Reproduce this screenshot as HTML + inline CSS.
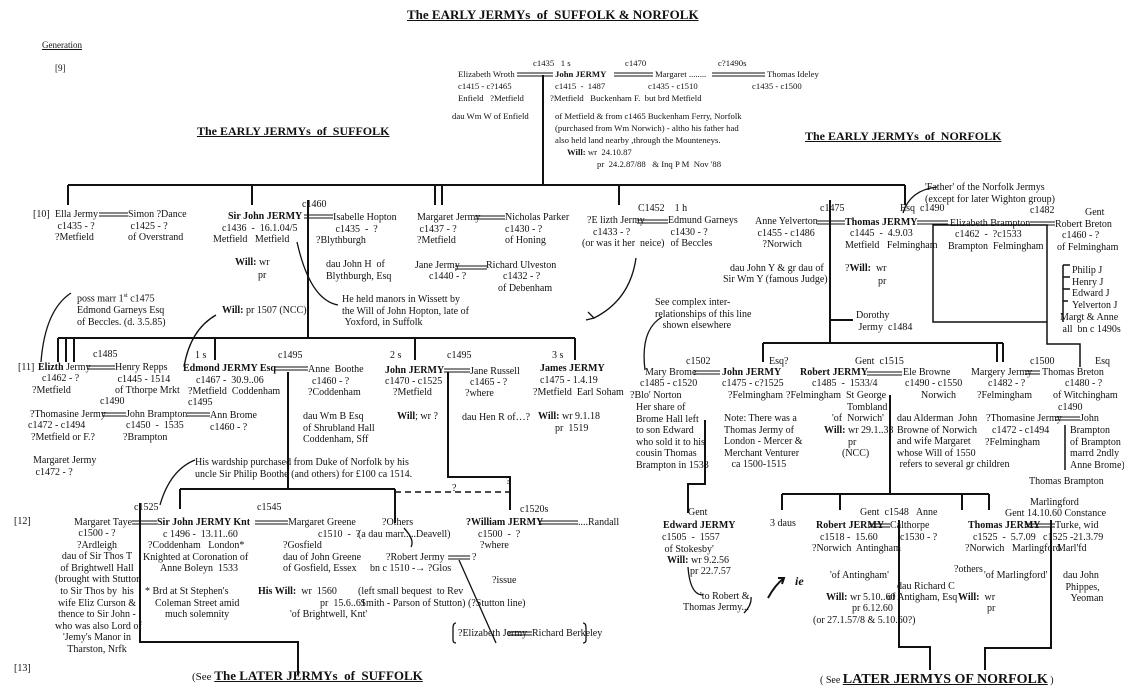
<!DOCTYPE html>
<html><head><meta charset="utf-8"><style>
body{margin:0;background:#fff;}
#w{position:relative;width:1124px;height:698px;overflow:hidden;background:#fff;color:#111;font-family:"Liberation Serif",serif;}
.t{position:absolute;white-space:nowrap;font-size:10px;line-height:11.6px;}
.s{font-size:8.7px;line-height:12px;}
b{font-weight:bold;}
.h{position:absolute;white-space:nowrap;font-weight:bold;text-decoration:underline;font-size:13px;}
svg{position:absolute;left:0;top:0;}
</style></head><body><div id="w">
<svg width="1124" height="698" fill="none" stroke="#111" stroke-width="1.3">
<path d="M543 75V185M68 185H905M68 185V205M252 185V205M435 185V205M442 185V205M619 185V205M905 185V205" stroke-width="2"/>
<path d="M308 200V338M58 338H575M58 338V362M66 338V362M74 338V362M215 338V360M415 338V360M575 338V360" stroke-width="2"/>
<path d="M830 200V343M763 343H1003M763 343V362M1003 343V362M997 343V362M830 320H853" stroke-width="2"/>
<path d="M933 225H1047V322H933ZM1047 322V344H1080V367" stroke-width="1.5"/>
<path d="M1063 265H1070M1063 277H1070M1063 289H1070M1063 301H1068M1063 265V322" stroke-width="1.5"/>
<path d="M288 372V489M180 489H395M180 489V509M395 489V523M448 372V477H510V510" stroke-width="2"/>
<path d="M395 492H510" stroke-dasharray="6 4" stroke-width="1.6"/>
<path d="M140 503V642H298V675" stroke-width="2"/>
<path d="M705 420V484H688V513" stroke-width="2"/>
<path d="M890 395V494M782 494H989M782 494V510M840 494V510M962 494V510M989 494V510" stroke-width="2"/>
<path d="M899 520V647H930V670M1051 520V648H985V670" stroke-width="2"/>
<path d="M1065 425V470" stroke-width="1.5"/>
<path d="M71 293Q45 310 41 362M216 315Q190 330 184 367M195 460Q170 470 160 505M297 242Q310 300 338 305"/>
<path d="M404 528Q415 540 411 547M459 560L496 643M636 258Q630 300 594 318M588 312L594 318L586 320"/>
<path d="M662 317Q640 330 645 370M937 187Q910 190 903 213M688 567Q690 595 703 595M744 613Q752 605 751 597"/>
<path d="M768 598Q775 585 784 578M778 578L784 578L782 584" stroke-width="2"/>
<path d="M456 623Q453 623 453 628V640Q453 643 456 643M583 623Q586 623 586 628V640Q586 643 583 643"/>
<g stroke-width="1">
<path d="M517 73H553M517 76H553M614 73H653M614 76H653M712 73H765M712 76H765"/>
<path d="M99 213H128M99 216H128M304 215H333M304 218H333M475 216H505M475 219H505M455 266H487M455 269H487"/>
<path d="M637 220H668M637 223H668M817 221H845M817 224H845M917 221H948M917 224H948M1030 222H1055M1030 225H1055"/>
<path d="M87 366H115M87 369H115M102 413H126M102 416H126M187 413H210M187 416H210M275 367H308M275 370H308M444 369H470M444 372H470"/>
<path d="M694 371H720M694 374H720M867 372H902M867 375H902M1025 371H1040M1025 374H1040M1055 417H1080M1055 420H1080"/>
<path d="M132 521H157M132 524H157M255 521H288M255 524H288M448 556H470M448 559H470M540 521H578M540 524H578M508 632H532M508 635H532"/>
<path d="M869 524H890M869 527H890M1025 524H1055M1025 527H1055"/>
</g>
</svg>

<div class="h" style="left:407px;top:7px;">The EARLY JERMYs&nbsp; of&nbsp; SUFFOLK &amp; NORFOLK</div>
<div class="t" style="left:42px;top:40px;font-size:9px;text-decoration:underline">Generation</div>
<div class="t" style="left:55px;top:63px;font-size:9px">[9]</div>
<div class="h" style="left:197px;top:124px;font-size:12px">The EARLY JERMYs&nbsp; of&nbsp; SUFFOLK</div>
<div class="h" style="left:805px;top:129px;font-size:12px">The EARLY JERMYs&nbsp; of&nbsp; NORFOLK</div>

<div class="t s" style="left:533px;top:57px">c1435&nbsp;&nbsp; 1 s</div>
<div class="t s" style="left:625px;top:57px">c1470</div>
<div class="t s" style="left:718px;top:57px">c?1490s</div>
<div class="t s" style="left:458px;top:68px">Elizabeth Wroth<br>c1415 - c?1465<br>Enfield&nbsp;&nbsp; ?Metfield</div>
<div class="t s" style="left:452px;top:110px">dau Wm W of Enfield</div>
<div class="t s" style="left:555px;top:68px"><b>John JERMY</b><br>c1415&nbsp; -&nbsp; 1487</div>
<div class="t s" style="left:550px;top:92px">?Metfield&nbsp;&nbsp; Buckenham F.&nbsp; but brd Metfield</div>
<div class="t s" style="left:555px;top:110px">of Metfield &amp; from c1465 Buckenham Ferry, Norfolk<br>(purchased from Wm Norwich) - altho his father had<br>also held land nearby ,through the Mounteneys.</div>
<div class="t s" style="left:567px;top:146px"><b>Will:</b> wr&nbsp; 24.10.87</div>
<div class="t s" style="left:597px;top:158px">pr&nbsp; 24.2.87/88&nbsp;&nbsp; &amp; Inq P M&nbsp; Nov '88</div>
<div class="t s" style="left:655px;top:68px">Margaret ........</div>
<div class="t s" style="left:648px;top:80px">c1435 - c1510</div>
<div class="t s" style="left:767px;top:68px">Thomas Ideley</div>
<div class="t s" style="left:752px;top:80px">c1435 - c1500</div>

<div class="t" style="left:33px;top:209px">[10]</div>
<div class="t" style="left:55px;top:209px">Ella Jermy<br>&nbsp;c1435 - ?<br>?Metfield</div>
<div class="t" style="left:128px;top:209px">Simon ?Dance<br>&nbsp;c1425 - ?<br>of Overstrand</div>
<div class="t" style="left:302px;top:199px">c1460</div>
<div class="t" style="left:228px;top:211px"><b>Sir John JERMY</b></div>
<div class="t" style="left:222px;top:223px">c1436&nbsp; -&nbsp; 16.1.04/5</div>
<div class="t" style="left:213px;top:234px">Metfield&nbsp;&nbsp; Metfield</div>
<div class="t" style="left:235px;top:257px"><b>Will:</b> wr</div>
<div class="t" style="left:258px;top:270px">pr</div>
<div class="t" style="left:333px;top:212px">Isabelle Hopton<br>&nbsp;c1435&nbsp; -&nbsp; ?</div>
<div class="t" style="left:316px;top:235px">?Blythburgh</div>
<div class="t" style="left:326px;top:259px">dau John H&nbsp; of<br>Blythburgh, Esq</div>
<div class="t" style="left:417px;top:212px">Margaret Jermy<br>&nbsp;c1437 - ?<br>?Metfield</div>
<div class="t" style="left:505px;top:212px">Nicholas Parker<br>c1430 - ?<br>of Honing</div>
<div class="t" style="left:415px;top:260px">Jane Jermy</div>
<div class="t" style="left:429px;top:271px">c1440 - ?</div>
<div class="t" style="left:486px;top:260px">Richard Ulveston</div>
<div class="t" style="left:503px;top:271px">c1432 - ?</div>
<div class="t" style="left:498px;top:283px">of Debenham</div>
<div class="t" style="left:342px;top:294px">He held manors in Wissett by<br>the Will of John Hopton, late of<br>&nbsp;Yoxford, in Suffolk</div>
<div class="t" style="left:77px;top:291px">poss marr 1<sup style="font-size:6px">st</sup> c1475<br>Edmond Garneys Esq<br>of Beccles. (d. 3.5.85)</div>
<div class="t" style="left:222px;top:305px"><b>Will:</b> pr 1507 (NCC)</div>

<div class="t" style="left:638px;top:203px">C1452&nbsp;&nbsp;&nbsp; 1 h</div>
<div class="t" style="left:587px;top:215px">?E lizth Jermy</div>
<div class="t" style="left:593px;top:227px">c1433 - ?</div>
<div class="t" style="left:582px;top:238px">(or was it her&nbsp; neice)</div>
<div class="t" style="left:668px;top:215px">Edmund Garneys<br>&nbsp;c1430 - ?<br>&nbsp;of Beccles</div>
<div class="t" style="left:755px;top:216px">Anne Yelverton<br>&nbsp;c1455 - c1486<br>&nbsp;&nbsp;&nbsp;?Norwich</div>
<div class="t" style="left:730px;top:263px">dau John Y &amp; gr dau of</div>
<div class="t" style="left:723px;top:274px">Sir Wm Y (famous Judge)</div>
<div class="t" style="left:820px;top:203px">c1475</div>
<div class="t" style="left:845px;top:217px"><b>Thomas JERMY</b></div>
<div class="t" style="left:850px;top:228px">c1445&nbsp; -&nbsp; 4.9.03</div>
<div class="t" style="left:845px;top:240px">Metfield&nbsp;&nbsp; Felmingham</div>
<div class="t" style="left:845px;top:263px">?<b>Will:</b>&nbsp; wr</div>
<div class="t" style="left:878px;top:276px">pr</div>
<div class="t" style="left:900px;top:203px">Esq&nbsp; c1490</div>
<div class="t" style="left:925px;top:182px">'Father' of the Norfolk Jermys<br>(except for later Wighton group)</div>
<div class="t" style="left:950px;top:218px">Elizabeth Brampton</div>
<div class="t" style="left:955px;top:229px">c1462&nbsp; -&nbsp; ?c1533</div>
<div class="t" style="left:948px;top:241px">Brampton&nbsp; Felmingham</div>
<div class="t" style="left:1030px;top:205px">c1482</div>
<div class="t" style="left:1085px;top:207px">Gent</div>
<div class="t" style="left:1055px;top:219px">Robert Breton</div>
<div class="t" style="left:1062px;top:230px">c1460 - ?</div>
<div class="t" style="left:1057px;top:242px">of Felmingham</div>
<div class="t" style="left:1072px;top:265px">Philip J<br>Henry J<br>Edward J<br>Yelverton J</div>
<div class="t" style="left:1060px;top:312px">Margt &amp; Anne<br>&nbsp;all&nbsp; bn c 1490s</div>
<div class="t" style="left:655px;top:297px">See complex inter-<br>relationships of this line<br>&nbsp;&nbsp;&nbsp;shown elsewhere</div>
<div class="t" style="left:856px;top:310px">Dorothy<br>&nbsp;Jermy&nbsp; c1484</div>

<div class="t" style="left:18px;top:362px">[11]</div>
<div class="t" style="left:93px;top:349px">c1485</div>
<div class="t" style="left:38px;top:362px"><b>Elizth</b> Jermy</div>
<div class="t" style="left:42px;top:373px">c1462 - ?</div>
<div class="t" style="left:32px;top:385px">?Metfield</div>
<div class="t" style="left:115px;top:362px">Henry Repps<br>&nbsp;c1445 - 1514<br>of Tthorpe Mrkt</div>
<div class="t" style="left:100px;top:396px">c1490</div>
<div class="t" style="left:30px;top:409px">?Thomasine Jermy</div>
<div class="t" style="left:28px;top:420px">c1472 - c1494</div>
<div class="t" style="left:31px;top:432px">?Metfield or F.?</div>
<div class="t" style="left:33px;top:455px">Margaret Jermy<br>&nbsp;c1472 - ?</div>
<div class="t" style="left:126px;top:409px">John Brampton</div>
<div class="t" style="left:126px;top:420px">c1450&nbsp; -&nbsp; 1535</div>
<div class="t" style="left:123px;top:432px">?Brampton</div>
<div class="t" style="left:195px;top:350px">1 s</div>
<div class="t" style="left:183px;top:363px"><b>Edmond JERMY Esq</b></div>
<div class="t" style="left:196px;top:375px">c1467 -&nbsp; 30.9..06</div>
<div class="t" style="left:188px;top:386px">?Metfield&nbsp; Coddenham</div>
<div class="t" style="left:188px;top:397px">c1495</div>
<div class="t" style="left:210px;top:410px">Ann Brome<br>c1460 - ?</div>
<div class="t" style="left:278px;top:350px">c1495</div>
<div class="t" style="left:308px;top:364px">Anne&nbsp; Boothe</div>
<div class="t" style="left:312px;top:376px">c1460 - ?</div>
<div class="t" style="left:308px;top:387px">?Coddenham</div>
<div class="t" style="left:303px;top:411px">dau Wm B Esq<br>of Shrubland Hall<br>Coddenham, Sff</div>
<div class="t" style="left:390px;top:350px">2 s</div>
<div class="t" style="left:385px;top:365px"><b>John JERMY</b></div>
<div class="t" style="left:385px;top:376px">c1470 - c1525</div>
<div class="t" style="left:393px;top:387px">?Metfield</div>
<div class="t" style="left:397px;top:411px"><b>Will</b>; wr ?</div>
<div class="t" style="left:447px;top:350px">c1495</div>
<div class="t" style="left:470px;top:366px">Jane Russell</div>
<div class="t" style="left:470px;top:377px">c1465 - ?</div>
<div class="t" style="left:465px;top:388px">?where</div>
<div class="t" style="left:462px;top:412px">dau Hen R of…?</div>
<div class="t" style="left:552px;top:350px">3 s</div>
<div class="t" style="left:540px;top:363px"><b>James JERMY</b></div>
<div class="t" style="left:540px;top:375px">c1475 - 1.4.19</div>
<div class="t" style="left:533px;top:387px">?Metfield&nbsp; Earl Soham</div>
<div class="t" style="left:538px;top:411px"><b>Will:</b> wr 9.1.18</div>
<div class="t" style="left:555px;top:423px">pr&nbsp; 1519</div>
<div class="t" style="left:195px;top:457px">His wardship purchased from Duke of Norfolk by his<br>uncle Sir Philip Boothe (and others) for £100 ca 1514.</div>
<div class="t" style="left:506px;top:476px">?</div>
<div class="t" style="left:452px;top:483px">?</div>

<div class="t" style="left:686px;top:356px">c1502</div>
<div class="t" style="left:645px;top:367px">Mary Brome</div>
<div class="t" style="left:640px;top:378px">c1485 - c1520</div>
<div class="t" style="left:630px;top:390px">?Blo' Norton</div>
<div class="t" style="left:636px;top:402px">Her share of<br>Brome Hall left<br>to son Edward<br>who sold it to his<br>cousin Thomas<br>Brampton in 1533</div>
<div class="t" style="left:722px;top:367px"><b>John JERMY</b></div>
<div class="t" style="left:722px;top:378px">c1475 - c?1525</div>
<div class="t" style="left:728px;top:390px">?Felmingham</div>
<div class="t" style="left:724px;top:413px">Note: There was a<br>Thomas Jermy of<br>London - Mercer &amp;<br>Merchant Venturer<br>&nbsp;&nbsp;&nbsp;ca 1500-1515</div>
<div class="t" style="left:769px;top:356px">Esq?</div>
<div class="t" style="left:855px;top:356px">Gent&nbsp; c1515</div>
<div class="t" style="left:800px;top:367px"><b>Robert JERMY</b></div>
<div class="t" style="left:812px;top:378px">c1485&nbsp; -&nbsp; 1533/4</div>
<div class="t" style="left:786px;top:390px">?Felmingham&nbsp; St George</div>
<div class="t" style="left:847px;top:402px">Tombland</div>
<div class="t" style="left:832px;top:413px">'of&nbsp; Norwich'</div>
<div class="t" style="left:824px;top:425px"><b>Will:</b> wr 29.1..33</div>
<div class="t" style="left:848px;top:437px">pr</div>
<div class="t" style="left:842px;top:448px">(NCC)</div>
<div class="t" style="left:903px;top:367px">Ele Browne</div>
<div class="t" style="left:905px;top:378px">c1490 - c1550</div>
<div class="t" style="left:921px;top:390px">Norwich</div>
<div class="t" style="left:897px;top:413px">dau Alderman&nbsp; John<br>Browne of Norwich<br>and wife Margaret<br>whose Will of 1550<br>&nbsp;refers to several gr children</div>
<div class="t" style="left:971px;top:367px">Margery Jermy</div>
<div class="t" style="left:988px;top:378px">c1482 - ?</div>
<div class="t" style="left:977px;top:390px">?Felmingham</div>
<div class="t" style="left:1030px;top:356px">c1500</div>
<div class="t" style="left:1095px;top:356px">Esq</div>
<div class="t" style="left:1042px;top:367px">Thomas Breton</div>
<div class="t" style="left:1065px;top:378px">c1480 - ?</div>
<div class="t" style="left:1053px;top:390px">of Witchingham</div>
<div class="t" style="left:1058px;top:402px">c1490</div>
<div class="t" style="left:986px;top:413px">?Thomasine Jermy</div>
<div class="t" style="left:992px;top:425px">c1472 - c1494</div>
<div class="t" style="left:985px;top:437px">?Felmingham</div>
<div class="t" style="left:1080px;top:413px">John</div>
<div class="t" style="left:1070px;top:425px">Brampton<br>of Brampton<br>marrd 2ndly<br>Anne Brome)</div>
<div class="t" style="left:1029px;top:476px">Thomas Brampton</div>

<div class="t" style="left:14px;top:516px">[12]</div>
<div class="t" style="left:134px;top:502px">c1525</div>
<div class="t" style="left:257px;top:502px">c1545</div>
<div class="t" style="left:74px;top:517px">Margaret Taye</div>
<div class="t" style="left:55px;top:528px;text-align:center;width:84px">c1500 - ?<br>?Ardleigh<br>dau of Sir Thos T<br>of Brightwell Hall<br>(brought with Stutton<br>to Sir Thos by&nbsp; his<br>wife Eliz Curson &amp;<br>thence to Sir John -<br>who was also Lord of<br>'Jemy's Manor in<br>Tharston, Nrfk</div>
<div class="t" style="left:157px;top:517px"><b>Sir John JERMY Knt</b></div>
<div class="t" style="left:163px;top:529px">c 1496 -&nbsp; 13.11..60</div>
<div class="t" style="left:148px;top:540px">?Coddenham&nbsp;&nbsp; London*</div>
<div class="t" style="left:143px;top:552px">Knighted at Coronation of</div>
<div class="t" style="left:160px;top:563px">Anne Boleyn&nbsp; 1533</div>
<div class="t" style="left:145px;top:586px">* Brd at St Stephen's</div>
<div class="t" style="left:155px;top:598px">Coleman Street amid</div>
<div class="t" style="left:165px;top:609px">much solemnity</div>
<div class="t" style="left:288px;top:517px">Margaret Greene</div>
<div class="t" style="left:318px;top:529px">c1510&nbsp; -&nbsp; ?</div>
<div class="t" style="left:283px;top:540px">?Gosfield<br>dau of John Greene<br>of Gosfield, Essex</div>
<div class="t" style="left:258px;top:586px"><b>His Will:</b>&nbsp; wr&nbsp; 1560</div>
<div class="t" style="left:320px;top:598px">pr&nbsp; 15.6..61</div>
<div class="t" style="left:290px;top:609px">'of Brightwell, Knt'</div>
<div class="t" style="left:382px;top:517px">?Others</div>
<div class="t" style="left:358px;top:529px">(a dau marr.....Deavell)</div>
<div class="t" style="left:386px;top:552px">?Robert Jermy</div>
<div class="t" style="left:472px;top:552px">?</div>
<div class="t" style="left:370px;top:563px">bn c 1510 -→ ?Glos</div>
<div class="t" style="left:358px;top:586px">(left small bequest&nbsp; to Rev<br>&nbsp;Smith - Parson of Stutton)</div>
<div class="t" style="left:520px;top:504px">c1520s</div>
<div class="t" style="left:466px;top:517px"><b>?William JERMY</b></div>
<div class="t" style="left:578px;top:517px">....Randall</div>
<div class="t" style="left:478px;top:529px">c1500&nbsp; -&nbsp; ?</div>
<div class="t" style="left:480px;top:540px">?where</div>
<div class="t" style="left:492px;top:575px">?issue</div>
<div class="t" style="left:468px;top:598px">(?Stutton line)</div>
<div class="t" style="left:458px;top:628px">?Elizabeth Jermy</div>
<div class="t" style="left:532px;top:628px">Richard Berkeley</div>

<div class="t" style="left:688px;top:507px">Gent</div>
<div class="t" style="left:663px;top:520px"><b>Edward JERMY</b></div>
<div class="t" style="left:662px;top:532px">c1505&nbsp; -&nbsp; 1557<br>&nbsp;of Stokesby'</div>
<div class="t" style="left:667px;top:555px"><b>Will:</b> wr 9.2.56</div>
<div class="t" style="left:690px;top:566px">pr 22.7.57</div>
<div class="t" style="left:700px;top:591px">'to Robert &amp;</div>
<div class="t" style="left:683px;top:602px">Thomas Jermy...'</div>
<div class="t" style="left:770px;top:518px">3 daus</div>
<div class="t" style="left:795px;top:576px;font-style:italic;font-weight:bold;font-size:12px">ie</div>
<div class="t" style="left:860px;top:507px">Gent&nbsp; c1548&nbsp;&nbsp; Anne</div>
<div class="t" style="left:816px;top:520px"><b>Robert JERMY</b></div>
<div class="t" style="left:820px;top:532px">c1518 -&nbsp; 15.60</div>
<div class="t" style="left:812px;top:543px">?Norwich&nbsp; Antingham</div>
<div class="t" style="left:830px;top:570px">'of Antingham'</div>
<div class="t" style="left:826px;top:592px"><b>Will:</b> wr 5.10..60</div>
<div class="t" style="left:852px;top:603px">pr 6.12.60</div>
<div class="t" style="left:813px;top:615px">(or 27.1.57/8 &amp; 5.10.60?)</div>
<div class="t" style="left:890px;top:520px">Calthorpe</div>
<div class="t" style="left:900px;top:532px">c1530 - ?</div>
<div class="t" style="left:897px;top:581px">dau Richard C</div>
<div class="t" style="left:887px;top:592px">of Antigham, Esq</div>
<div class="t" style="left:954px;top:564px">?others</div>
<div class="t" style="left:968px;top:520px"><b>Thomas JERMY</b></div>
<div class="t" style="left:973px;top:532px">c1525&nbsp; -&nbsp; 5.7.09</div>
<div class="t" style="left:965px;top:543px">?Norwich&nbsp;&nbsp; Marlingford</div>
<div class="t" style="left:984px;top:570px">'of Marlingford'</div>
<div class="t" style="left:958px;top:592px"><b>Will:</b>&nbsp; wr</div>
<div class="t" style="left:987px;top:603px">pr</div>
<div class="t" style="left:1030px;top:497px">Marlingford</div>
<div class="t" style="left:1005px;top:508px">Gent 14.10.60 Constance</div>
<div class="t" style="left:1055px;top:520px">Turke, wid</div>
<div class="t" style="left:1043px;top:532px">c1525 -21.3.79</div>
<div class="t" style="left:1057px;top:543px">Marl'fd</div>
<div class="t" style="left:1063px;top:570px">dau John<br>&nbsp;Phippes,<br>&nbsp;&nbsp;&nbsp;Yeoman</div>

<div class="t" style="left:14px;top:663px">[13]</div>
<div class="t" style="left:192px;top:670px;font-size:11px">(See <span style="font-weight:bold;text-decoration:underline;font-size:13px">The LATER JERMYs&nbsp; of&nbsp; SUFFOLK</span></div>
<div class="t" style="left:820px;top:674px;font-size:10px">( See <span style="font-weight:bold;text-decoration:underline;font-size:14px">LATER JERMYS OF NORFOLK</span> )</div>
</div></body></html>
